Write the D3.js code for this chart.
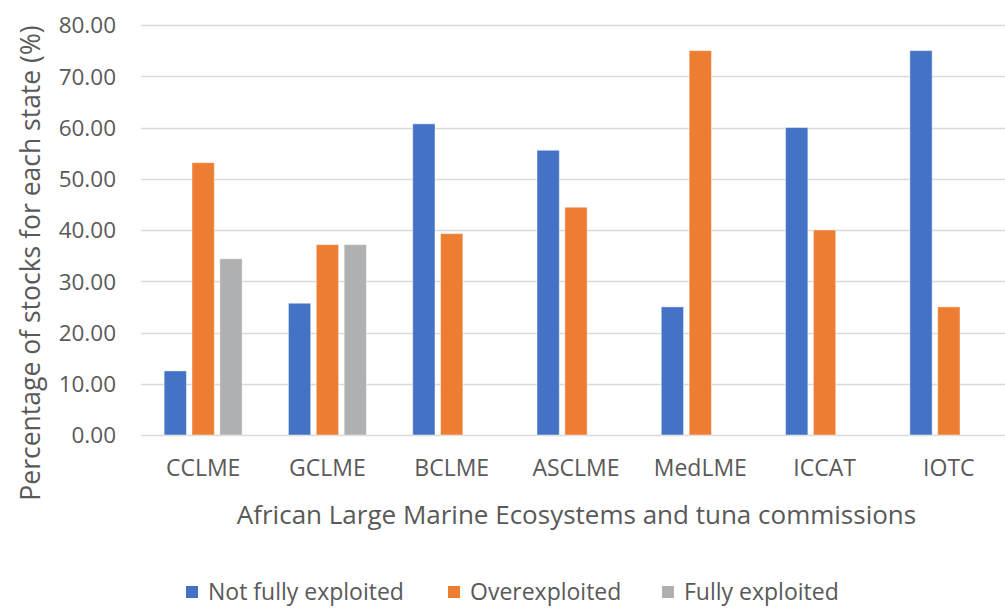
<!DOCTYPE html>
<html>
<head>
<meta charset="utf-8">
<script src="https://cdn.jsdelivr.net/npm/d3@7"></script>
<style>
  html, body { margin: 0; padding: 0; background: #fff; }
  svg text { font-family: "Open Sans", "Noto Sans", sans-serif; fill: #595959; }
</style>
</head>
<body>
<svg id="chart" width="1005" height="608"></svg>
<script>
// Regions: African Large Marine Ecosystems and tuna commissions
const categories = ["CCLME", "GCLME", "BCLME", "ASCLME", "MedLME", "ICCAT", "IOTC"];
const seriesNames = ["Not fully exploited", "Overexploited", "Fully exploited"];
const notFullyExploited = [12.50, 25.71, 60.71, 55.56, 25.00, 60.00, 75.00];
const overexploited     = [53.13, 37.14, 39.29, 44.44, 75.00, 40.00, 25.00];
const fullyExploited    = [34.38, 37.14, 0, 0, 0, 0, 0];
const yTicks = [0, 10, 20, 30, 40, 50, 60, 70, 80];
const colors = ["#4472C4", "#ED7D31", "#AFB0B2"];

const seriesValues = [notFullyExploited, overexploited, fullyExploited];

const svg = d3.select("#chart");
const margin = { left: 141, right: -6, top: 25, bottom: 173 };
const W = 1005, H = 608;

const x = d3.scaleBand().domain(categories).range([margin.left, W - margin.right]).padding(0);
const y = d3.scaleLinear().domain([0, 80]).range([H - margin.bottom, margin.top]);

// Bars within each category group
const groupHalf = 39;
const xs = d3.scaleBand().domain(seriesNames).range([-groupHalf, groupHalf]).paddingInner(0.2);

// Gridlines
svg.append("g")
  .selectAll("line")
  .data(yTicks)
  .join("line")
  .attr("x1", margin.left)
  .attr("x2", W)
  .attr("y1", d => Math.round(y(d)) + 0.5)
  .attr("y2", d => Math.round(y(d)) + 0.5)
  .attr("stroke", "#D9D9D9")
  .attr("stroke-width", 1.5);

// Y axis tick labels
const yAxis = d3.axisLeft(y).tickValues(yTicks).tickFormat(d3.format(".2f")).tickSize(0).tickPadding(0);
const yg = svg.append("g").attr("transform", `translate(116,0)`).call(yAxis);
yg.select(".domain").remove();
yg.selectAll("text").attr("font-size", 22.5).attr("dy", "0.35em").attr("fill", "#595959");

// Bars
const rows = categories.map((c, i) => seriesNames.map((s, j) => ({ cat: c, series: s, value: seriesValues[j][i], k: j })));
svg.append("g")
  .selectAll("g")
  .data(rows)
  .join("g")
  .attr("transform", (d, i) => `translate(${x(categories[i]) + x.bandwidth() / 2},0)`)
  .selectAll("rect")
  .data(d => d.filter(v => v.value > 0))
  .join("rect")
  .attr("x", d => xs(d.series))
  .attr("width", xs.bandwidth())
  .attr("y", d => y(d.value))
  .attr("height", d => y(0) - y(d.value))
  .attr("fill", d => colors[d.k])
  .attr("stroke", "rgba(255,255,255,0.45)")
  .attr("stroke-width", 1);

// X axis category labels
const xAxis = d3.axisBottom(x).tickSize(0).tickPadding(0);
const xg = svg.append("g").attr("transform", `translate(0,${y(0) + 33})`).call(xAxis);
xg.select(".domain").remove();
xg.selectAll("text").attr("font-size", 23).attr("dy", "0.35em").attr("fill", "#595959");

// Axis titles
svg.append("text")
  .attr("x", (238 + 915) / 2)
  .attr("y", 515)
  .attr("dy", "0.35em")
  .attr("text-anchor", "middle")
  .attr("font-size", 26)
  .text("African Large Marine Ecosystems and tuna commissions");

svg.append("text")
  .attr("transform", `translate(31,263) rotate(-90)`)
  .attr("dy", "0.35em")
  .attr("text-anchor", "middle")
  .attr("font-size", 26.5)
  .text("Percentage of stocks for each state (%)");

// Legend
const legendX = [186, 448, 662];
const legend = svg.append("g")
  .selectAll("g")
  .data(seriesNames)
  .join("g")
  .attr("transform", (d, i) => `translate(${legendX[i]},592)`);
legend.append("rect")
  .attr("x", 0).attr("y", -6).attr("width", 12).attr("height", 12)
  .attr("fill", (d, i) => colors[i]);
legend.append("text")
  .attr("x", 22).attr("y", 0).attr("dy", "0.35em")
  .attr("font-size", 23)
  .text(d => d);
</script>
</body>
</html>
